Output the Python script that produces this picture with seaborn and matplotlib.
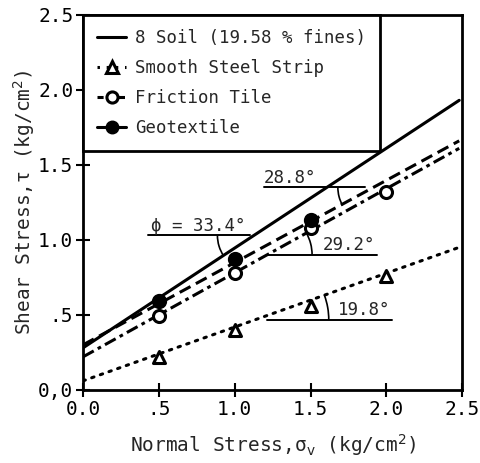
import matplotlib
matplotlib.use("Agg")
import matplotlib.pyplot as plt
from matplotlib.patches import Arc
from matplotlib.lines import Line2D
import seaborn as sns

# ---- data ----
x_pts = [0.5, 1.0, 1.5, 2.0]
steel_tau = [0.22, 0.40, 0.56, 0.76]
friction_tau = [0.49, 0.78, 1.08, 1.32]
geo_x = [0.5, 1.0, 1.5]
geo_tau = [0.59, 0.87, 1.13]

line_x = [0.0, 2.48]
soil_line = [0.28, 1.93]
steel_line = [0.06, 0.95]
friction_line = [0.22, 1.61]
geo_line = [0.30, 1.66]

labels = ["8 Soil (19.58 % fines)", "Smooth Steel Strip", "Friction Tile", "Geotextile"]
angle_labels = ["ϕ = 33.4°", "28.8°", "29.2°", "19.8°"]
xtick_vals = [0.0, 0.5, 1.0, 1.5, 2.0, 2.5]
xtick_labels = ["0.0", ".5", "1.0", "1.5", "2.0", "2.5"]
ytick_vals = [0.0, 0.5, 1.0, 1.5, 2.0, 2.5]
ytick_labels = ["0,0", ".5", "1.0", "1.5", "2.0", "2.5"]

sns.set_style("ticks")
plt.rcParams["font.family"] = ["DejaVu Sans Mono", "DejaVu Sans"]

fig = plt.figure(figsize=(4.8, 4.63), dpi=100)
ax = fig.add_axes([0.173, 0.158, 0.79, 0.81])

# lines
sns.lineplot(x=line_x, y=soil_line, ax=ax, color="black", lw=2.2, linestyle="-")
sns.lineplot(x=line_x, y=steel_line, ax=ax, color="black", lw=2.2, linestyle=(0, (0.8, 2.2)),
             dash_capstyle="round")
sns.lineplot(x=line_x, y=friction_line, ax=ax, color="black", lw=2.2, linestyle=(0, (4, 1.5, 1.2, 1.5)))
sns.lineplot(x=line_x, y=geo_line, ax=ax, color="black", lw=2.2, linestyle=(0, (4, 2)))

# markers
sns.scatterplot(x=x_pts, y=steel_tau, ax=ax, marker="^", s=75, facecolor="white",
                edgecolor="black", linewidth=2.2, zorder=5)
sns.scatterplot(x=x_pts, y=friction_tau, ax=ax, marker="o", s=75, facecolor="white",
                edgecolor="black", linewidth=2.2, zorder=5)
sns.scatterplot(x=geo_x, y=geo_tau, ax=ax, marker="o", s=90, facecolor="black",
                edgecolor="black", linewidth=1.5, zorder=6)

# angle annotations
ann_fs = 12.5
def hline(y, x0, x1):
    ax.plot([x0, x1], [y, y], color="black", lw=1.4)

hline(1.03, 0.43, 1.10)
ax.text(0.45, 1.035, angle_labels[0], fontsize=ann_fs, ha="left", va="bottom")
ax.add_patch(Arc((1.136, 1.03), 0.5, 0.5, theta1=180, theta2=213.4, color="black", lw=1.2))

hline(1.35, 1.19, 1.86)
ax.text(1.19, 1.355, angle_labels[1], fontsize=ann_fs, ha="left", va="bottom")
ax.add_patch(Arc((1.93, 1.35), 0.5, 0.5, theta1=180, theta2=208.8, color="black", lw=1.2))

hline(0.90, 1.22, 1.94)
ax.text(1.58, 0.905, angle_labels[2], fontsize=ann_fs, ha="left", va="bottom")
ax.add_patch(Arc((1.21, 0.90), 0.6, 0.6, theta1=0, theta2=29.2, color="black", lw=1.2))

hline(0.467, 1.21, 2.04)
ax.text(1.68, 0.472, angle_labels[3], fontsize=ann_fs, ha="left", va="bottom")
ax.add_patch(Arc((1.14, 0.467), 0.96, 0.96, theta1=0, theta2=19.8, color="black", lw=1.2))

# axes
ax.set_xlim(0, 2.5)
ax.set_ylim(0, 2.5)
ax.set_xticks(xtick_vals)
ax.set_xticklabels(xtick_labels)
ax.set_yticks(ytick_vals)
ax.set_yticklabels(ytick_labels)
ax.tick_params(direction="inout", length=10, width=1.5, labelsize=14, colors="black", pad=2)
for s in ax.spines.values():
    s.set_visible(True)
    s.set_linewidth(2.0)
    s.set_color("black")
ax.set_xlabel("Normal Stress,σ$_{\\rm v}$ (kg/cm$^2$)", fontsize=14, labelpad=10)
ax.set_ylabel("Shear Stress,τ (kg/cm$^2$)", fontsize=14, labelpad=1)

# legend
handles = [
    Line2D([], [], color="black", lw=2.2, linestyle="-"),
    Line2D([], [], color="black", lw=2.2, linestyle=(0, (0.8, 2.2)), marker="^",
           markersize=8, markerfacecolor="white", markeredgewidth=2.2),
    Line2D([], [], color="black", lw=2.2, linestyle=(0, (2, 1.5)), marker="o",
           markersize=8, markerfacecolor="white", markeredgewidth=2.2),
    Line2D([], [], color="black", lw=2.2, linestyle="-", marker="o",
           markersize=9, markerfacecolor="black"),
]
leg = ax.legend(handles, labels, loc="upper left", bbox_to_anchor=(0, 1),
                borderaxespad=0, fontsize=12.5, handlelength=1.7, labelspacing=0.7,
                handletextpad=0.5, borderpad=0.8, fancybox=False, framealpha=1,
                edgecolor="black")
leg.get_frame().set_linewidth(2.0)

fig.savefig("out.png", dpi=100)
